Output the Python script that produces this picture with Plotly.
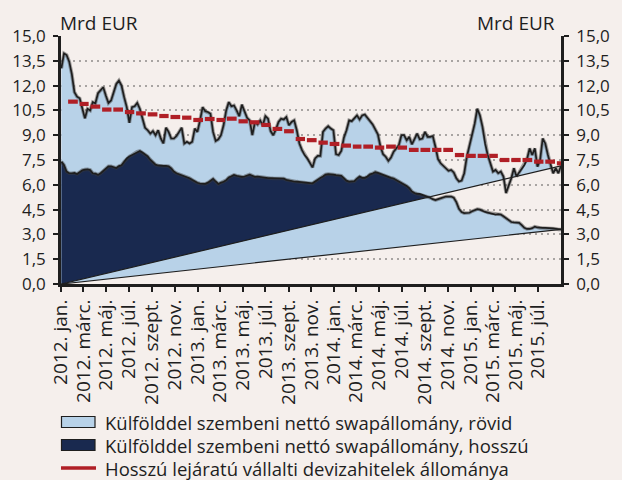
import pandas as pd
import plotly.graph_objects as go

# Weekly observations, 2012-01-02 .. 2015-08-31 (billion EUR)
week_start = "2012-01-02"

# Top of the stack: total net swap stock vs. non-residents (short + long)
swap_total = [
    13.05, 13.95, 13.85, 13.45, 12.7, 11.6, 11.33, 11.23, 10.63, 10.02,
    10.6, 10.5, 11.0, 10.93, 11.54, 11.75, 11.9, 11.4, 10.95, 11.1,
    11.55, 12.1, 12.3, 12.0, 11.3, 10.7, 9.75, 10.7, 10.75, 10.95,
    10.6, 10.1, 9.45, 9.3, 9.1, 9.25, 9.0, 9.3, 8.8, 8.5,
    9.45, 9.2, 8.8, 8.8, 8.95, 9.2, 9.45, 8.5, 8.6, 8.5,
    8.6, 9.4, 9.2, 9.9, 10.7, 10.45, 10.4, 10.3, 9.2, 8.65,
    8.75, 9.0, 9.6, 10.5, 11.0, 10.75, 10.8, 10.5, 10.15, 10.85,
    10.45, 10.05, 9.9, 9.0, 9.8, 9.65, 9.9, 9.6, 10.15, 10.0,
    9.25, 9.0, 9.35, 9.8, 10.0, 9.95, 10.1, 9.6, 9.8, 9.9,
    9.3, 8.5, 8.1, 7.8, 7.6, 7.35, 7.05,
    7.6, 7.75, 7.75, 9.2, 9.4, 9.55, 9.4, 9.3, 7.85, 7.8,
    8.05, 8.85, 9.3, 9.9, 9.85, 10.0, 10.2, 9.95, 10.2, 10.25,
    10.05, 9.85, 9.65, 9.35, 9.05, 8.3, 7.85, 7.7, 7.45, 7.65,
    8.0, 8.2, 8.4, 9.0, 9.0, 8.7, 8.9, 8.45, 8.8, 9.1,
    8.75, 8.8, 9.2, 8.9, 8.9, 8.95, 8.3,
    7.55, 7.3, 7.15, 7.0, 6.85, 6.9, 6.75, 6.4, 6.2, 6.25,
    6.7, 7.7, 8.4, 8.9, 9.7, 10.6, 10.2, 9.5, 8.5, 7.8,
    7.3, 6.8, 6.9, 6.7, 6.8, 6.5, 5.5, 5.9, 6.4, 7.0,
    6.5, 6.75, 7.0, 7.2, 7.55, 8.2, 7.8, 8.2, 7.1, 7.5,
    8.8, 8.5, 7.8, 7.2, 6.7, 7.0, 6.7, 7.15,
]

# Long-maturity part of the net swap stock
swap_long = [
    7.4, 7.2, 6.8, 6.7, 6.7, 6.72, 6.65, 6.78, 6.88, 6.92,
    6.94, 6.9, 6.7, 6.68, 6.6, 6.7, 6.85, 7.0, 7.12, 7.12,
    7.05, 7.02, 7.13, 7.18, 7.4, 7.6, 7.72, 7.8, 7.92, 8.0,
    8.05, 7.95, 7.82, 7.72, 7.52, 7.35, 7.22, 7.17, 7.14, 7.14,
    7.14, 7.12, 7.0, 6.8, 6.7, 6.64, 6.6, 6.55, 6.45, 6.4,
    6.3, 6.2, 6.12, 6.08, 6.07, 6.06, 6.13, 6.25, 6.36, 6.2,
    6.05, 6.13, 6.18, 6.28, 6.45, 6.52, 6.6, 6.55, 6.5, 6.48,
    6.5, 6.58, 6.62, 6.55, 6.48, 6.5, 6.47, 6.45, 6.43, 6.4,
    6.4, 6.39, 6.4, 6.38, 6.4, 6.38, 6.3, 6.26, 6.24, 6.2,
    6.19, 6.17, 6.14, 6.12, 6.1, 6.09, 6.09,
    6.2, 6.33, 6.42, 6.5, 6.62, 6.65, 6.65, 6.62, 6.59, 6.59,
    6.55, 6.4, 6.25, 6.19, 6.19, 6.22, 6.38, 6.5, 6.42, 6.42,
    6.5, 6.63, 6.68, 6.77, 6.72, 6.65, 6.6, 6.52, 6.45, 6.42,
    6.38, 6.3, 6.18, 6.1, 6.05, 5.93, 5.8, 5.6, 5.5, 5.45,
    5.45, 5.4, 5.32, 5.27, 5.22, 5.13, 5.08,
    5.13, 5.18, 5.25, 5.29, 5.29, 5.29, 5.22, 4.95, 4.55, 4.35,
    4.29, 4.29, 4.31, 4.4, 4.47, 4.53, 4.5, 4.42, 4.36, 4.32,
    4.29, 4.26, 4.2, 4.22, 4.2, 4.1, 4.0, 3.85, 3.75, 3.73,
    3.73, 3.7, 3.56, 3.4, 3.33, 3.33, 3.38, 3.47, 3.42, 3.39,
    3.39, 3.39, 3.39, 3.38, 3.36, 3.34, 3.3, 3.3,
]

# Monthly stock of long-term corporate FX loans, Jan 2012 .. Aug 2015
loan_start = "2012-01-01"
fx_loans = [
    11.03, 10.89, 10.73, 10.55, 10.55, 10.4, 10.32, 10.26, 10.16, 10.1, 10.06, 9.92,
    9.98, 9.92, 10.0, 9.84, 9.78, 9.62, 9.38, 9.24, 8.77, 8.7, 8.55, 8.47,
    8.37, 8.31, 8.31, 8.25, 8.31, 8.25, 8.11, 8.11, 8.11, 8.11, 7.8, 7.75,
    7.75, 7.75, 7.5, 7.5, 7.5, 7.4, 7.4, 7.3,
]

# Axis ticks every second month
tick_dates = pd.date_range("2012-01-01", "2015-07-01", freq="2MS")
month_abbr = {1: "jan.", 3: "márc.", 5: "máj.", 7: "júl.", 9: "szept.", 11: "nov."}
tick_text = [f"{d.year}. {month_abbr[d.month]}" for d in tick_dates]

legend_labels = [
    "Külfölddel szembeni nettó swapállomány, rövid",
    "Külfölddel szembeni nettó swapállomány, hosszú",
    "Hosszú lejáratú vállalti devizahitelek állománya",
]

LIGHT = "#B8D2E8"
NAVY = "#19294F"
RED = "#B01F26"
BG = "#F5EFEC"
INK = "#1E1E1E"
FONT = "Open Sans"

dates = pd.date_range(week_start, periods=len(swap_total), freq="7D")
x_first, x_last = dates[0], dates[-1]
span = (x_last - x_first).total_seconds()

# Closing chords of the two area polygons (from the origin to the last value)
frac = [(d - x_first).total_seconds() / span for d in dates]
chord_long = [swap_long[-1] * f for f in frac]
chord_total = [swap_total[-1] * f for f in frac]
long_above = [max(a, b) for a, b in zip(swap_long, chord_total)]
total_above = [max(a, b) for a, b in zip(swap_total, chord_total)]

fig = go.Figure()

def edge(y, **kw):
    return go.Scatter(x=dates, y=y, mode="lines", line=dict(width=0),
                      hoverinfo="skip", showlegend=False, **kw)

# light band between the long chord and the long curve
fig.add_trace(edge(chord_long))
fig.add_trace(edge(swap_long, fill="tonexty", fillcolor=LIGHT))
# light band between the total chord and the total curve
fig.add_trace(edge(chord_total))
fig.add_trace(edge(total_above, fill="tonexty", fillcolor=LIGHT))
# dark band where the long curve is above the total chord
fig.add_trace(edge(chord_total))
fig.add_trace(edge(long_above, fill="tonexty", fillcolor=NAVY))

# outlines
for y, w in ((chord_long, 1.2), (chord_total, 1.2)):
    fig.add_trace(go.Scatter(x=[x_first, x_last], y=[y[0], y[-1]], mode="lines",
                             line=dict(color=INK, width=w), showlegend=False,
                             hoverinfo="skip"))
for y in (swap_long, swap_total):
    fig.add_trace(go.Scatter(x=dates, y=y, mode="lines",
                             line=dict(color="rgba(60,60,60,0.45)", width=3.6),
                             showlegend=False, hoverinfo="skip"))
    fig.add_trace(go.Scatter(x=dates, y=y, mode="lines",
                             line=dict(color=INK, width=1.7),
                             showlegend=False, hoverinfo="skip"))

# monthly loan stock, one dash per month
months = pd.date_range(loan_start, periods=len(fx_loans), freq="MS")
lx, ly = [], []
for m, v in zip(months, fx_loans):
    lx += [m + pd.Timedelta(days=19), m + pd.offsets.MonthBegin(1) + pd.Timedelta(days=14), None]
    ly += [v, v, None]
fig.add_trace(go.Scatter(x=lx, y=ly, mode="lines", yaxis="y2",
                         line=dict(color=RED, width=4.2), showlegend=False,
                         hoverinfo="skip"))

axis_common = dict(
    range=[0, 15], dtick=1.5, tick0=0, tickformat=".1f",
    showline=True, linecolor=INK, linewidth=2.6,
    ticks="outside", ticklen=5, tickwidth=2, tickcolor=INK,
    tickfont=dict(family=FONT, size=17, color=INK),
    zeroline=False, fixedrange=True,
)

fig.update_layout(
    width=622, height=480,
    margin=dict(l=59, r=55, t=36, b=196),
    paper_bgcolor=BG, plot_bgcolor=BG,
    separators=", ",
    showlegend=False,
    xaxis=dict(
        type="date", range=["2012-01-01", "2015-08-31"],
        tickvals=list(tick_dates), ticktext=tick_text, tickangle=-90,
        tickfont=dict(family=FONT, size=19, color=INK),
        showline=True, linecolor=INK, linewidth=2.8,
        ticks="outside", ticklen=5, tickwidth=2, tickcolor=INK,
        showgrid=False, zeroline=False,
    ),
    yaxis=dict(**axis_common, showgrid=True, gridcolor="#A8A4A2",
               gridwidth=1.5, griddash="2px,4px", ticklabelstandoff=4),
    yaxis2=dict(**axis_common, overlaying="y", side="right", showgrid=False,
                ticklabelstandoff=4),
)

fig.add_annotation(text="Mrd EUR", xref="paper", yref="paper", x=-0.006, y=1.052,
                   xanchor="left", yanchor="middle", showarrow=False,
                   font=dict(family=FONT, size=19, color=INK))
fig.add_annotation(text="Mrd EUR", xref="paper", yref="paper", x=0.991, y=1.052,
                   xanchor="right", yanchor="middle", showarrow=False,
                   font=dict(family=FONT, size=19, color=INK))

# legend
px_h = 248.0
def py(v):
    return (284 - v) / px_h

rows = [422, 445, 468]
for i, (label, yc) in enumerate(zip(legend_labels, rows)):
    if i < 2:
        fig.add_shape(type="rect", xref="paper", yref="paper",
                      x0=0.001, x1=0.068, y0=py(yc + 5.5), y1=py(yc - 5.5),
                      fillcolor=LIGHT if i == 0 else NAVY,
                      line=dict(color=INK, width=1.2))
    else:
        fig.add_shape(type="line", xref="paper", yref="paper",
                      x0=0.0, x1=0.07, y0=py(yc), y1=py(yc),
                      line=dict(color=RED, width=3.5))
    fig.add_annotation(text=label, xref="paper", yref="paper", x=0.084, y=py(yc),
                       xanchor="left", yanchor="middle", showarrow=False,
                       font=dict(family=FONT, size=18.5, color=INK))

fig.write_html("out.html")
